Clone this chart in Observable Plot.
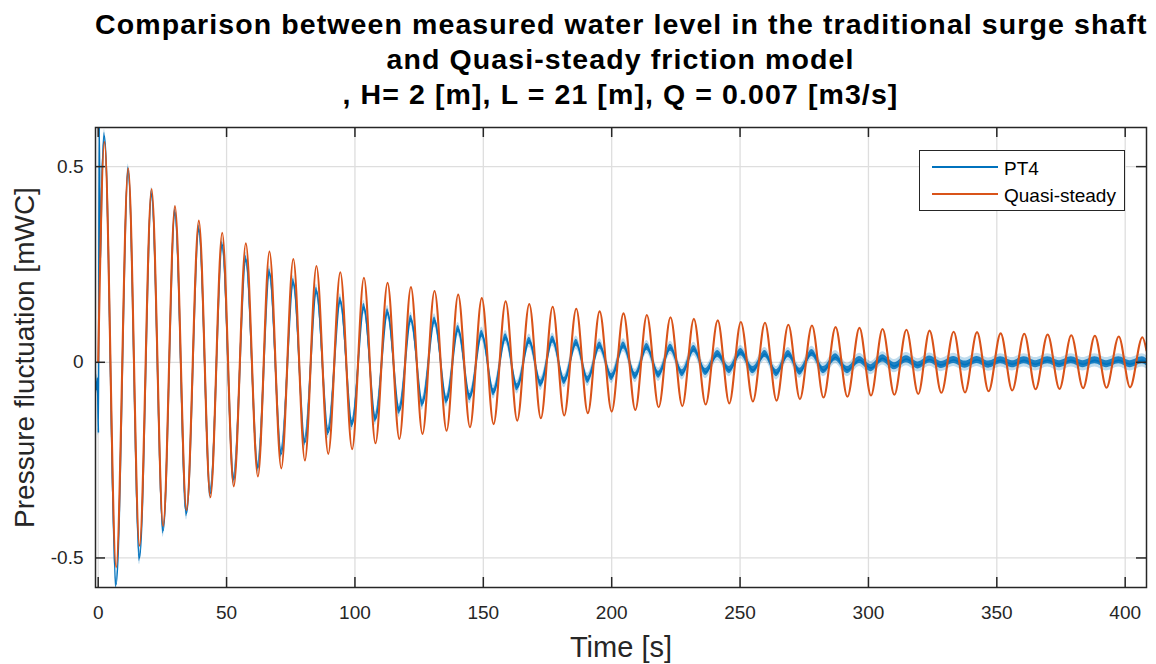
<!DOCTYPE html>
<html><head><meta charset="utf-8">
<script src="https://cdn.jsdelivr.net/npm/d3@7"></script>
<script src="https://cdn.jsdelivr.net/npm/@observablehq/plot@0.6"></script>
<style>
html,body{margin:0;padding:0;background:#fff;}
#wrap{position:relative;width:1156px;height:664px;overflow:hidden;font-family:"Liberation Sans",Arial,Helvetica,sans-serif;}
#title{height:112px;box-sizing:border-box;padding-top:7px;margin-left:95px;width:1051px;text-align:center;font-weight:bold;font-size:28.5px;line-height:35px;letter-spacing:1.1px;color:#000;white-space:nowrap;}
#legend{position:absolute;left:919px;top:150px;width:206px;height:61px;box-sizing:border-box;border:1px solid #262626;background:#fff;}
.sw{position:absolute;left:12px;width:66px;height:2px;}
.lt{position:absolute;left:84px;font-size:19px;line-height:19px;color:#000;white-space:nowrap;}
#plot svg{display:block;}
</style>
</head><body>
<div id="wrap">
  <div id="title"></div>
  <div id="plot"></div>
  <div id="legend"></div>
</div>
<script>
// ---- text ----
const titleLines = [
  "Comparison between measured water level in the traditional surge shaft",
  "and Quasi-steady friction model",
  ", H= 2 [m], L = 21 [m], Q = 0.007 [m3/s]"
];
const xLabel = "Time [s]";
const yLabel = "Pressure fluctuation [mWC]";
const seriesNames = ["PT4", "Quasi-steady"];
const seriesColors = ["#0072BD", "#D95319"];

// ---- ticks ----
const xTicks = [0, 50, 100, 150, 200, 250, 300, 350, 400];
const yTicks = [-0.5, 0, 0.5];
const xDomain = [-1.05, 408.3];
const yDomain = [-0.5755, 0.6];

// ---- PT4 measured: extrema (time [s], level [mWC]) ----
const measTime = [
  -1.0, -0.6, -0.3, 0.1, 0.4, 0.8, 1.4, 2.45, 7.0, 11.7,
  16.1, 20.8, 25.3, 29.9, 34.4, 39.2, 43.7, 48.3, 52.8, 57.5,
  62.2, 66.7, 71.3, 76.0, 80.5, 85.0, 89.6, 94.3, 98.9, 103.5,
  108.0, 112.7, 117.3, 121.8, 126.3, 131.0, 135.7, 140.2, 144.8, 149.4,
  154.0, 158.7, 163.2, 167.9, 172.4, 177.0, 181.5, 186.2, 190.7, 195.3,
  200.0, 204.6, 209.2, 213.7, 218.3, 222.9, 227.5, 232.0, 236.6, 241.3,
  245.8, 250.3, 255.0, 259.7, 264.2, 268.8, 273.3, 278.0, 282.5, 287.2,
  291.8, 296.5, 301.0, 305.5, 310.1, 314.8, 319.4, 323.8, 328.4, 333.2,
  337.6, 342.3, 346.8, 351.5, 356.0, 360.7, 365.1, 369.8, 374.4, 379.0,
  383.6, 388.2, 392.7, 397.5, 401.9, 406.7, 408.3
];
const measLevel = [
  -0.05, -0.07, -0.04, -0.18, 0.61, 0.25, 0.45, 0.578, -0.567, 0.49,
  -0.50, 0.43, -0.43, 0.383, -0.386, 0.341, -0.335, 0.300, -0.300, 0.264,
  -0.270, 0.230, -0.234, 0.205, -0.205, 0.183, -0.179, 0.158, -0.158, 0.141,
  -0.145, 0.128, -0.124, 0.111, -0.106, 0.107, -0.098, 0.085, -0.089, 0.073,
  -0.077, 0.064, -0.064, 0.055, -0.055, 0.058, -0.048, 0.050, -0.045, 0.043,
  -0.038, 0.043, -0.035, 0.039, -0.032, 0.037, -0.028, 0.034, -0.025, 0.021,
  -0.020, 0.026, -0.020, 0.021, -0.028, 0.021, -0.024, 0.024, -0.020, 0.013,
  -0.020, 0.006, -0.015, 0.010, -0.010, 0.008, -0.008, 0.007, -0.007, 0.006,
  -0.006, 0.006, -0.006, 0.005, -0.005, 0.005, -0.005, 0.005, -0.005, 0.005,
  -0.005, 0.005, -0.005, 0.005, -0.005, 0.005, 0.0
];
// visible half-thickness of the sensor noise band [mWC]
const noiseCore = 0.009;
const noiseOuter = 0.017;

// ---- Quasi-steady model: extrema ----
const modelTime = [
  0, 2.45, 7.0, 11.7, 16.1, 20.8, 25.3, 29.9, 34.4, 39.2,
  43.7, 48.3, 52.8, 57.5, 62.2, 66.7, 71.3, 76.0, 80.5, 85.0,
  89.6, 94.3, 98.9, 103.5, 108.0, 112.7, 117.3, 121.8, 126.3, 131.0,
  135.7, 140.2, 144.8, 149.4, 154.0, 158.7, 163.2, 167.9, 172.4, 177.0,
  181.5, 186.2, 190.7, 195.3, 200.0, 204.6, 209.2, 213.7, 218.3, 222.9,
  227.5, 232.0, 236.6, 241.3, 245.8, 250.3, 255.0, 259.7, 264.2, 268.8,
  273.3, 278.0, 282.5, 287.2, 291.8, 296.5, 301.0, 305.5, 310.1, 314.8,
  319.4, 323.8, 328.4, 333.2, 337.6, 342.3, 346.8, 351.5, 356.0, 360.7,
  365.1, 369.8, 374.4, 379.0, 383.6, 388.2, 392.7, 397.5, 401.9, 406.7,
  408.3
];
const modelLevel = [
  0, 0.563, -0.524, 0.496, -0.469, 0.443, -0.418, 0.399, -0.378, 0.362,
  -0.345, 0.331, -0.317, 0.304, -0.292, 0.283, -0.271, 0.264, -0.251, 0.246,
  -0.234, 0.230, -0.222, 0.216, -0.207, 0.203, -0.196, 0.192, -0.183, 0.182,
  -0.175, 0.173, -0.166, 0.164, -0.158, 0.156, -0.149, 0.149, -0.143, 0.142,
  -0.136, 0.137, -0.130, 0.130, -0.126, 0.125, -0.122, 0.121, -0.115, 0.115,
  -0.112, 0.111, -0.108, 0.107, -0.105, 0.103, -0.100, 0.101, -0.098, 0.096,
  -0.094, 0.094, -0.090, 0.090, -0.088, 0.088, -0.085, 0.085, -0.083, 0.083,
  -0.081, 0.081, -0.078, 0.078, -0.077, 0.077, -0.074, 0.074, -0.072, 0.073,
  -0.069, 0.071, -0.068, 0.069, -0.066, 0.068, -0.065, 0.066, -0.064, 0.064,
  0.03
];

// ---- build ----
document.getElementById("title").innerHTML = titleLines.map(s => `<div>${s}</div>`).join("");

const measured = measTime.map((t, i) => ({t, v: measLevel[i]}));
const model = modelTime.map((t, i) => ({t, v: modelLevel[i]}));

const W = 1156, H = 552, mL = 95, mR = 10, mT = 15, mB = 77;
const innerW = W - mL - mR, innerH = H - mT - mB;
const tickLen = 10;
const axisColor = "#262626";
const gridColor = "#dedede";
const font = '"Liberation Sans", Arial, Helvetica, sans-serif';

const chart = Plot.plot({
  width: W, height: H,
  marginLeft: mL, marginRight: mR, marginTop: mT, marginBottom: mB,
  style: {fontFamily: font, background: "#fff", color: axisColor},
  x: {domain: xDomain},
  y: {domain: yDomain},
  marks: [
    Plot.gridX(xTicks, {stroke: gridColor, strokeOpacity: 1, strokeWidth: 1.3}),
    Plot.gridY(yTicks, {stroke: gridColor, strokeOpacity: 1, strokeWidth: 1.3}),
    Plot.areaY(measured, {x: "t", y1: d => d.v - noiseOuter, y2: d => d.v + noiseOuter, curve: "monotone-x", fill: seriesColors[0], fillOpacity: 0.25, clip: true}),
    Plot.areaY(measured, {x: "t", y1: d => d.v - noiseCore, y2: d => d.v + noiseCore, curve: "monotone-x", fill: seriesColors[0], fillOpacity: 0.85, clip: true}),
    Plot.line(measured, {x: "t", y: "v", curve: "monotone-x", stroke: seriesColors[0], strokeWidth: 1.6, clip: true}),
    Plot.line(model, {x: "t", y: "v", curve: "monotone-x", stroke: seriesColors[1], strokeWidth: 2.1, clip: true}),
    Plot.axisX(xTicks, {tickSize: 0, tickPadding: 18, fontSize: 19, label: null, tickFormat: d => String(d), fill: axisColor}),
    Plot.axisY(yTicks, {tickSize: 0, tickPadding: 12, fontSize: 19, label: null, tickFormat: d => String(d), fill: axisColor}),
    Plot.tickX(xTicks, {x: d => d, insetTop: innerH - tickLen, stroke: axisColor, strokeWidth: 1.5}),
    Plot.tickX(xTicks, {x: d => d, insetBottom: innerH - tickLen, stroke: axisColor, strokeWidth: 1.5}),
    Plot.tickY(yTicks, {y: d => d, insetLeft: innerW - tickLen, stroke: axisColor, strokeWidth: 1.5}),
    Plot.tickY(yTicks, {y: d => d, insetRight: innerW - tickLen, stroke: axisColor, strokeWidth: 1.5}),
    Plot.frame({stroke: axisColor, strokeWidth: 1.5}),
    Plot.text([xLabel], {text: d => d, frameAnchor: "bottom", textAnchor: "middle", lineAnchor: "middle", dy: 60, fontSize: 29, fill: axisColor}),
    Plot.text([yLabel], {text: d => d, frameAnchor: "left", textAnchor: "middle", lineAnchor: "middle", dx: -70, rotate: -90, fontSize: 28, fill: axisColor})
  ]
});
document.getElementById("plot").appendChild(chart);

// legend
const lg = document.getElementById("legend");
const swTop = [15, 42];
const txtTop = [8, 35];
seriesNames.forEach((name, i) => {
  const sw = document.createElement("div");
  sw.className = "sw";
  sw.style.top = swTop[i] + "px";
  sw.style.background = seriesColors[i];
  lg.appendChild(sw);
  const tx = document.createElement("div");
  tx.className = "lt";
  tx.style.top = txtTop[i] + "px";
  tx.textContent = name;
  lg.appendChild(tx);
});
</script>
</body></html>
